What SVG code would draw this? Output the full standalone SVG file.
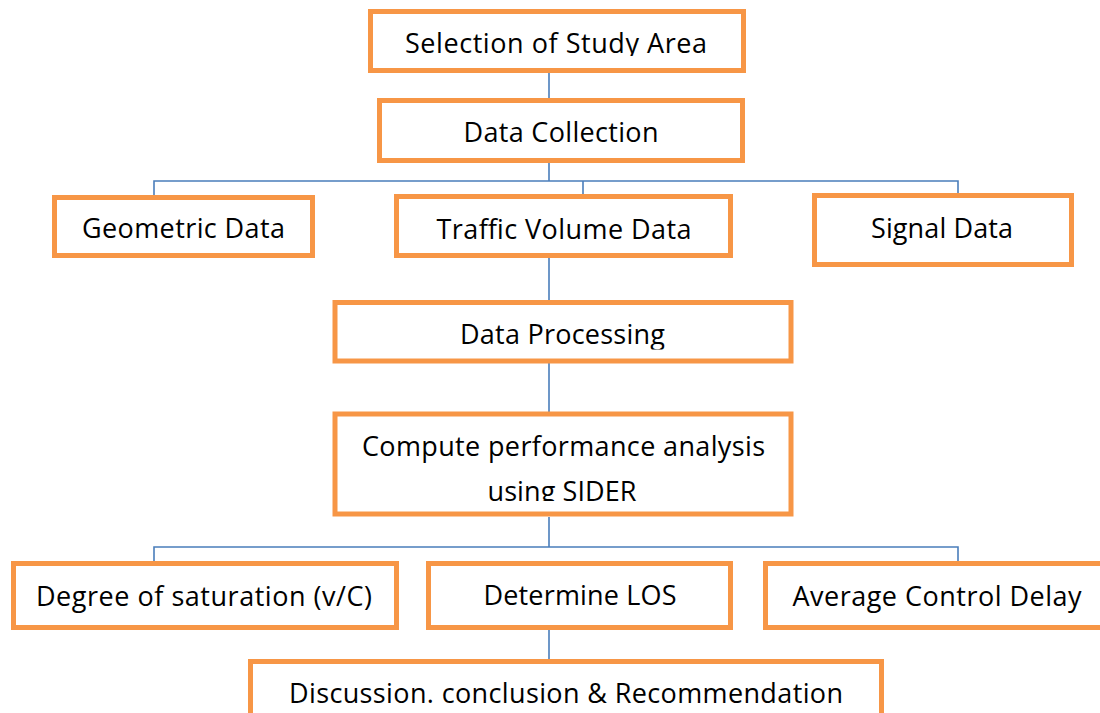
<svg xmlns="http://www.w3.org/2000/svg" width="1100" height="713" viewBox="0 0 1100 713">
<style>
.box{fill:#fff;stroke:#F79646;stroke-width:5}
.lbl{font-family:"Open Sans","Noto Sans","Liberation Sans",sans-serif;font-size:27px;fill:#000;text-anchor:middle}
.conn{stroke:#4A7EBB;stroke-width:1.6;fill:none}
</style>
<defs>
<clipPath id="c1"><rect x="0" y="0" width="1100" height="56"/></clipPath>
<clipPath id="c2"><rect x="0" y="300" width="1100" height="49.5"/></clipPath>
<clipPath id="c3"><rect x="0" y="410" width="1100" height="91"/></clipPath>
</defs>
<rect width="1100" height="713" fill="#fff"/>
<g id="connectors">
<path class="conn" d="M549 73V98M549 163V181M154 195V181H958V193M583 181V194M549 258V300M549 363V412M549 517V547M154 561V547H958V561M549 630V659"/>
</g>
<g id="n1"><rect class="box" x="370.5" y="11.5" width="373" height="59"/><text class="lbl" x="556" y="53" textLength="302" clip-path="url(#c1)">Selection of Study Area</text></g>
<g id="n2"><rect class="box" x="379.5" y="100.5" width="363" height="60"/><text class="lbl" x="561" y="142" textLength="195">Data Collection</text></g>
<g id="n3"><rect class="box" x="54.5" y="197.5" width="258" height="58"/><text class="lbl" x="183.5" y="238" textLength="203">Geometric Data</text></g>
<g id="n4"><rect class="box" x="396.5" y="196.5" width="334" height="59"/><text class="lbl" x="564" y="239" textLength="255">Traffic Volume Data</text></g>
<g id="n5"><rect class="box" x="814.5" y="195.5" width="257" height="69"/><text class="lbl" x="942" y="238" textLength="142">Signal Data</text></g>
<g id="n6"><rect class="box" x="335" y="302.5" width="456" height="58.5"/><text class="lbl" x="562.5" y="344" textLength="205" clip-path="url(#c2)">Data Processing</text></g>
<g id="n7"><rect class="box" x="335" y="414" width="456" height="100"/><g clip-path="url(#c3)"><text class="lbl" x="563.5" y="456" textLength="403">Compute performance analysis</text><text class="lbl" x="562" y="501" textLength="149">using SIDER</text></g></g>
<g id="n8"><rect class="box" x="13.5" y="563.5" width="383" height="64"/><text class="lbl" x="204" y="606" textLength="336">Degree of saturation (v/C)</text></g>
<g id="n9"><rect class="box" x="428.5" y="563.5" width="302" height="64"/><text class="lbl" x="580" y="605" textLength="193">Determine LOS</text></g>
<g id="n10"><rect class="box" x="765.5" y="563.5" width="340" height="64"/><text class="lbl" x="937" y="606" textLength="289">Average Control Delay</text></g>
<g id="n11"><rect class="box" x="250.5" y="661.5" width="631" height="80"/><text class="lbl" x="566" y="703" textLength="554">Discussion. conclusion &amp; Recommendation</text></g>
</svg>
